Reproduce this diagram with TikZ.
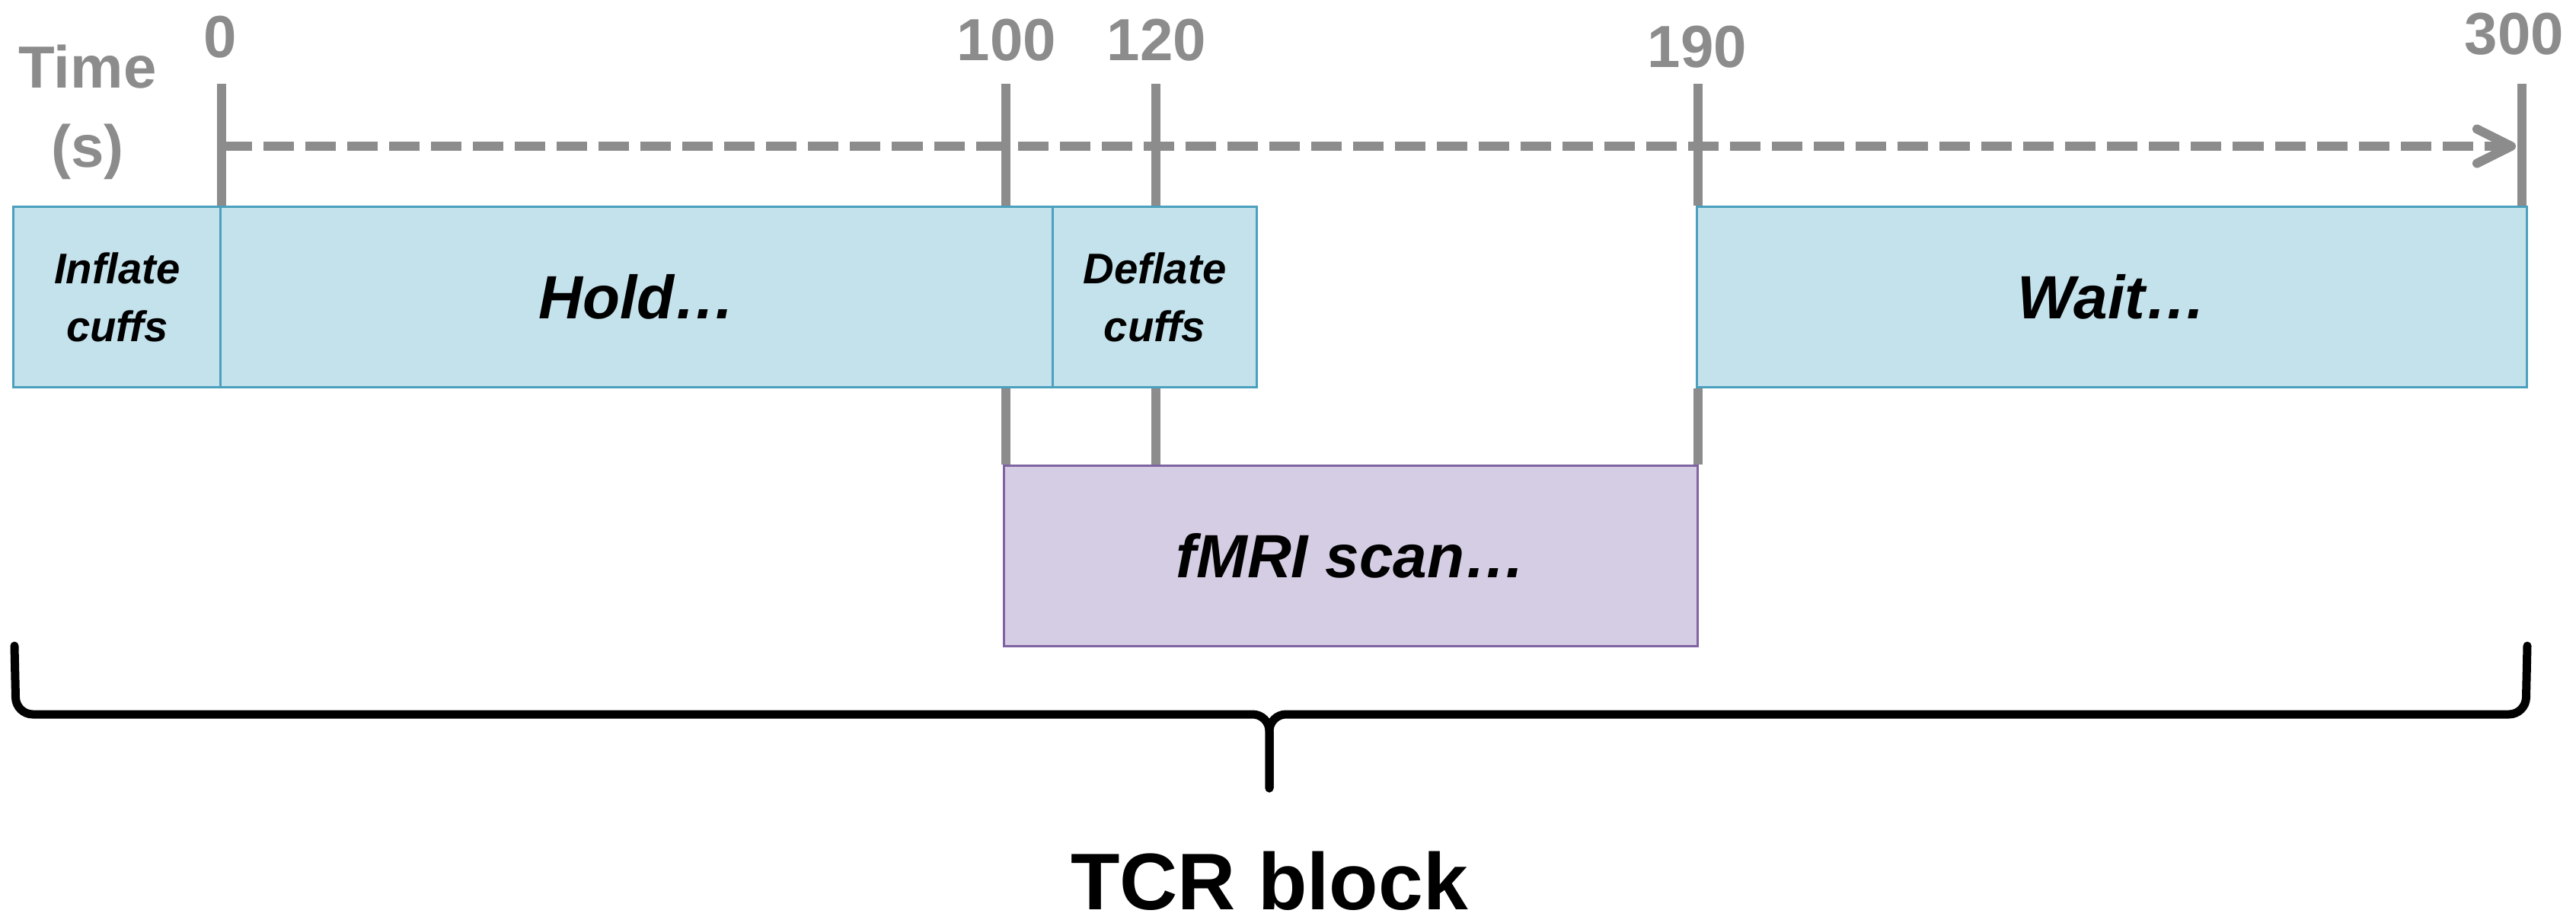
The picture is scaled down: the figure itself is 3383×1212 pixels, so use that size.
\documentclass[tikz,border=0pt]{standalone}
\usepackage{fontspec}
\setmainfont{Liberation Sans}
\usetikzlibrary{arrows.meta,backgrounds}
\definecolor{boxblue}{RGB}{196,226,236}
\definecolor{edgeblue}{RGB}{75,160,190}
\definecolor{boxpurple}{RGB}{213,205,227}
\definecolor{edgepurple}{RGB}{128,100,162}
\definecolor{axisgrey}{RGB}{140,140,140}
\begin{document}
\begin{tikzpicture}[x=0.01cm,y=-0.01cm,
  bluebox/.style={draw=edgeblue, fill=boxblue, line width=0.03cm, minimum height=2.36cm, inner sep=0pt},
  purplebox/.style={draw=edgepurple, fill=boxpurple, line width=0.03cm, minimum height=2.36cm, inner sep=0pt},
  biglabel/.style={font=\fontsize{22.8}{27}\selectfont\bfseries\itshape},
  smalllabel/.style={font=\fontsize{16}{21.6}\selectfont\bfseries\itshape, align=center},
  ticklabel/.style={text=axisgrey, font=\fontsize{22.2}{26}\selectfont\bfseries, anchor=base, inner sep=0pt},
  tickline/.style={draw=axisgrey, line width=0.12cm},
  axisline/.style={draw=axisgrey, line width=0.12cm, dash pattern=on 0.4cm off 0.15cm,
    -{Straight Barb[length=0.45cm,width=0.45cm,round]}},
  bracepath/.style={draw=black, line width=0.11cm, rounded corners=0.22cm, line cap=round}
]
\useasboundingbox (0,0) rectangle (3383,1212);

% boxes
\node[bluebox, smalllabel, minimum width=2.72cm] (inflate) at (154,390) {Inflate\\cuffs};
\node[bluebox, biglabel, minimum width=10.93cm] (hold) at (836.5,390) {Hold…};
\node[bluebox, smalllabel, minimum width=2.67cm] (deflate) at (1516.5,390) {Deflate\\cuffs};
\node[bluebox, biglabel, minimum width=10.89cm] (wait) at (2773.5,390) {Wait…};
\node[purplebox, biglabel, minimum width=9.10cm] (fmri) at (1774,730) {fMRI scan…};

% tick labels
\node[ticklabel] (time) at (115,116) {Time};
\node[ticklabel] (sec) at (115,219) {(s)};
\node[ticklabel] (n0) at (289,75) {0};
\node[ticklabel] (n100) at (1322,80) {100};
\node[ticklabel] (n120) at (1519,80) {120};
\node[ticklabel] (n190) at (2229,88) {190};
\node[ticklabel] (n300) at (3302,71) {300};

% tick tops
\coordinate (c0) at (291,110);
\coordinate (c100) at (1321,110);
\coordinate (c120) at (1518,110);
\coordinate (c190) at (2230,110);
\coordinate (c300) at (3312,110);

\begin{scope}[on background layer]
\draw[tickline] (c0) -- (c0 |- hold.north);
\draw[tickline] (c100) -- (c100 |- hold.north);
\draw[tickline] (c120) -- (c120 |- deflate.north);
\draw[tickline] (c190) -- (c190 |- wait.north);
\draw[tickline] (c300) -- (c300 |- wait.north);
\draw[tickline] (c100 |- hold.south) -- (c100 |- fmri.north);
\draw[tickline] (c120 |- deflate.south) -- (c120 |- fmri.north);
\draw[tickline] (c190 |- wait.south) -- (c190 |- fmri.north);
\end{scope}

% time axis
\coordinate (axstart) at (291,192);
\coordinate (axend) at (3304,192);
\draw[axisline] (axstart) -- (axend);

% brace
\coordinate (bl) at (19,848);
\coordinate (br) at (3319,848);
\coordinate (bmid) at (1667,938);
\coordinate (btip) at (1667,1035);
\draw[bracepath] (bl) -- (21,938) -- (bmid) -- (btip);
\draw[bracepath] (br) -- (3317,938) -- (bmid) -- (btip);

\node[font=\fontsize{30}{36}\selectfont\bfseries, anchor=base, inner sep=0pt] (tcr) at (1667,1194) {TCR block};
\end{tikzpicture}
\end{document}
